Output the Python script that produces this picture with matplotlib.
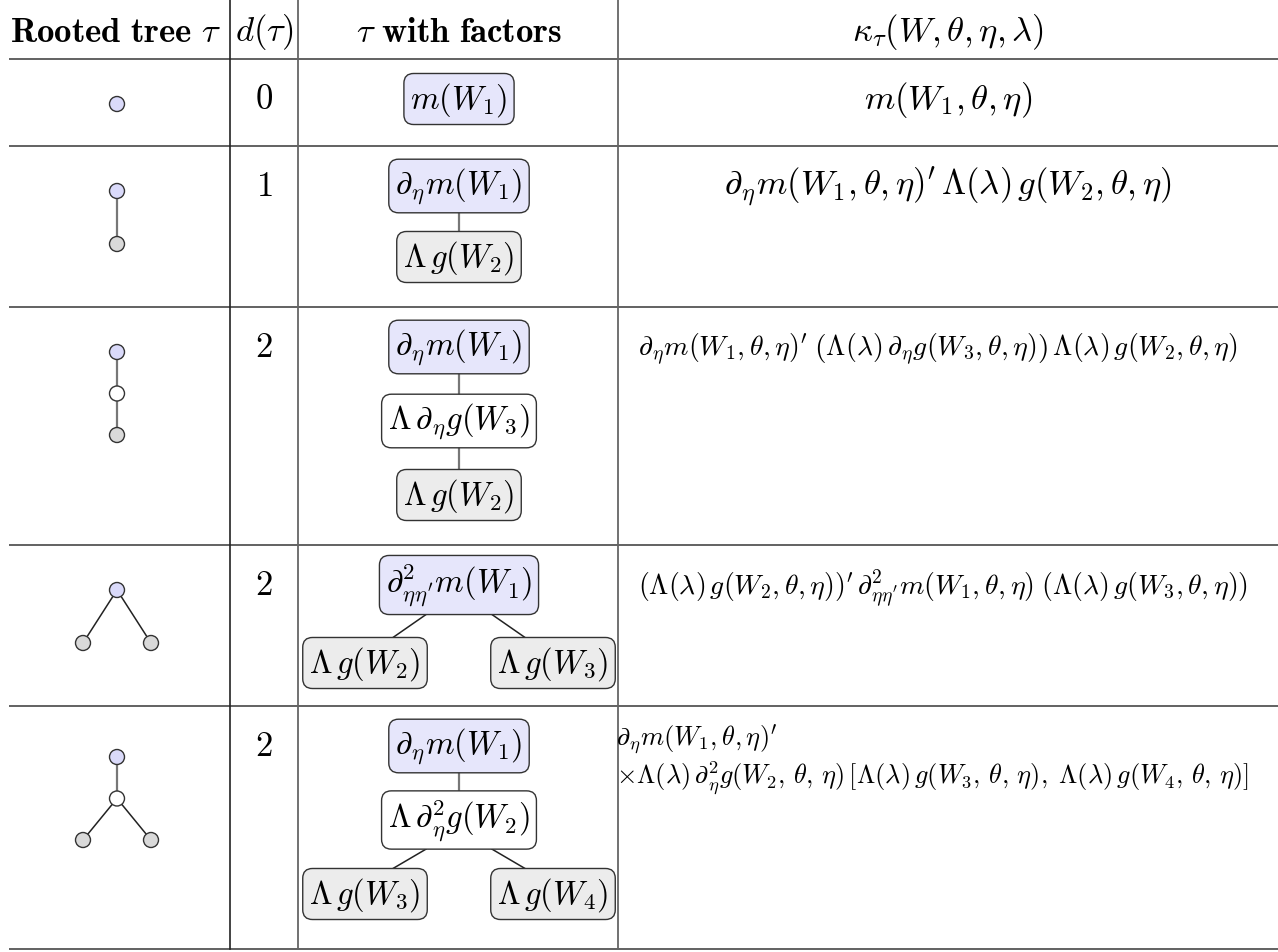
import matplotlib
matplotlib.use("Agg")
import matplotlib.pyplot as plt
from matplotlib.patches import Circle

plt.rcParams['mathtext.fontset'] = 'cm'
plt.rcParams['font.family'] = ['DejaVu Serif']

# ---------------- data ----------------
headers = [r"$\mathbf{Rooted\ tree}\ \tau$", r"$d(\tau)$",
           r"$\tau\ \mathbf{with\ factors}$", r"$\kappa_\tau(W,\theta,\eta,\lambda)$"]
degrees = [r"$0$", r"$1$", r"$2$", r"$2$", r"$2$"]

# tree nodes per row: (label, kind, parent index, horizontal slot)
tree_rows = [
    [(r"$m(W_1)$", "root", None, 0)],
    [(r"$\partial_\eta m(W_1)$", "root", None, 0),
     (r"$\Lambda\,g(W_2)$", "leaf", 0, 0)],
    [(r"$\partial_\eta m(W_1)$", "root", None, 0),
     (r"$\Lambda\,\partial_\eta g(W_3)$", "inner", 0, 0),
     (r"$\Lambda\,g(W_2)$", "leaf", 1, 0)],
    [(r"$\partial^2_{\eta\eta^{\prime}}m(W_1)$", "root", None, 0),
     (r"$\Lambda\,g(W_2)$", "leaf", 0, -1),
     (r"$\Lambda\,g(W_3)$", "leaf", 0, 1)],
    [(r"$\partial_\eta m(W_1)$", "root", None, 0),
     (r"$\Lambda\,\partial^2_\eta g(W_2)$", "inner", 0, 0),
     (r"$\Lambda\,g(W_3)$", "leaf", 1, -1),
     (r"$\Lambda\,g(W_4)$", "leaf", 1, 1)],
]

kappa_lines = [
    [r"$m(W_1,\theta,\eta)$"],
    [r"$\partial_\eta m(W_1,\theta,\eta)^{\prime}\,\Lambda(\lambda)\,g(W_2,\theta,\eta)$"],
    [r"$\partial_\eta m(W_1,\theta,\eta)^{\prime}\;\left(\Lambda(\lambda)\,\partial_\eta g(W_3,\theta,\eta)\right)\,\Lambda(\lambda)\,g(W_2,\theta,\eta)$"],
    [r"$\left(\Lambda(\lambda)\,g(W_2,\theta,\eta)\right)^{\prime}\,\partial^2_{\eta\eta^{\prime}}m(W_1,\theta,\eta)\;\left(\Lambda(\lambda)\,g(W_3,\theta,\eta)\right)$"],
    [r"$\partial_\eta m(W_1,\theta,\eta)^{\prime}$",
     r"$\times\Lambda(\lambda)\,\partial^2_\eta g(W_2,\,\theta,\,\eta)\,\left[\Lambda(\lambda)\,g(W_3,\,\theta,\,\eta),\;\Lambda(\lambda)\,g(W_4,\,\theta,\,\eta)\right]$"],
]

# ---------------- layout / style ----------------
W, H = 1278, 953
row_tops = [60, 147, 308, 546, 707]
table_bottom = 950
col_lines = [230, 298, 618]
col_centers = [115, 264, 459, 948]

node_fill = {"root": "#dadafa", "inner": "#ffffff", "leaf": "#d9d9d9"}
box_fill = {"root": "#e6e6fb", "inner": "#ffffff", "leaf": "#ececec"}

fig = plt.figure(figsize=(W / 100, H / 100), dpi=100)
ax = fig.add_axes([0, 0, 1, 1])
ax.set_xlim(0, W)
ax.set_ylim(H, 0)
ax.axis("off")

# rules
for y in row_tops + [table_bottom]:
    ax.plot([9, W], [y, y], color="#555555", lw=1.3, solid_capstyle="butt")
ax.plot([col_lines[0]] * 2, [0, table_bottom], color="#222222", lw=1.2)
ax.plot([col_lines[1]] * 2, [0, table_bottom], color="#666666", lw=1.3)
ax.plot([col_lines[2]] * 2, [0, table_bottom], color="#666666", lw=1.3)

# headers
hfs = 25
for x, t in zip(col_centers, headers):
    ax.text(x, 32, t, ha="center", va="center", fontsize=hfs)

def depth_of(nodes, i):
    d = 0
    while nodes[i][2] is not None:
        i = nodes[i][2]
        d += 1
    return d

fs = 25
bfs = 23.5
for r, top in enumerate(row_tops):
    nodes = tree_rows[r]
    depths = [depth_of(nodes, i) for i in range(len(nodes))]
    maxd = max(depths)

    # degree
    ax.text(col_centers[1], top + 39, degrees[r], ha="center", va="center", fontsize=fs)

    # ---- column 1: bare rooted tree ----
    y0 = top + (45 if r < 4 else 51)
    dy = 53 if maxd <= 1 else 41.5
    pos = []
    for i, (lab, kind, par, slot) in enumerate(nodes):
        x = col_centers[0] + 2 + slot * 34
        y = y0 + depths[i] * dy
        pos.append((x, y))
    for i, (lab, kind, par, slot) in enumerate(nodes):
        if par is not None:
            diag = slot != 0
            ax.plot([pos[par][0], pos[i][0]], [pos[par][1], pos[i][1]],
                    color="#222222" if diag else "#777777", lw=1.1 if diag else 1.6, zorder=1)
    for i, (lab, kind, par, slot) in enumerate(nodes):
        ax.add_patch(Circle(pos[i], 7.5, facecolor=node_fill[kind],
                            edgecolor="#333333", lw=1.0, zorder=2))

    # ---- column 3: tree with factors ----
    by0 = top + 40
    bdy = 74 if maxd == 2 else (78 if any(n[3] != 0 for n in nodes) else 71)
    texts = []
    bpos = []
    for i, (lab, kind, par, slot) in enumerate(nodes):
        x = col_centers[2] + slot * 94
        y = by0 + depths[i] * bdy
        bpos.append((x, y))
        t = ax.text(x, y, lab, ha="center", va="center", fontsize=bfs, zorder=3,
                    bbox=dict(boxstyle="round,pad=0.2,rounding_size=0.3",
                              facecolor=box_fill[kind], edgecolor="#333333", lw=1.0))
        texts.append(t)

    # ---- column 4: kappa ----
    lines = kappa_lines[r]
    if r < 2:
        ax.text(col_centers[3], top + 40, lines[0], ha="center", va="center", fontsize=fs)
    elif r < 4:
        ax.text(638, top + 42, lines[0], ha="left", va="center", fontsize=20)
    else:
        ax.text(616, top + 39, lines[0], ha="left", va="baseline", fontsize=19)
        ax.text(616, top + 77, lines[1], ha="left", va="baseline", fontsize=19)

    tree_rows[r] = (nodes, texts, bpos)

# connectors between factor boxes, from box edges
fig.canvas.draw()
renderer = fig.canvas.get_renderer()
inv = ax.transData.inverted()
for r in range(len(row_tops)):
    nodes, texts, bpos = tree_rows[r]
    ext = []
    for t in texts:
        bb = t.get_bbox_patch().get_window_extent(renderer)
        (x0, y0), (x1, y1) = inv.transform([[bb.x0, bb.y0], [bb.x1, bb.y1]])
        ext.append((min(x0, x1), max(x0, x1), min(y0, y1), max(y0, y1)))
    for i, (lab, kind, par, slot) in enumerate(nodes):
        if par is None:
            continue
        pb = ext[par][3]
        ct = ext[i][2]
        if slot == 0:
            xs = [bpos[par][0], bpos[i][0]]
            ax.plot(xs, [pb, ct], color="#777777", lw=1.6, zorder=1)
        else:
            xp = bpos[par][0] + slot * 33
            xc = bpos[i][0] - slot * 28
            ax.plot([xp, xc], [pb, ct], color="#222222", lw=1.1, zorder=1)

fig.savefig("out.png", dpi=100)
